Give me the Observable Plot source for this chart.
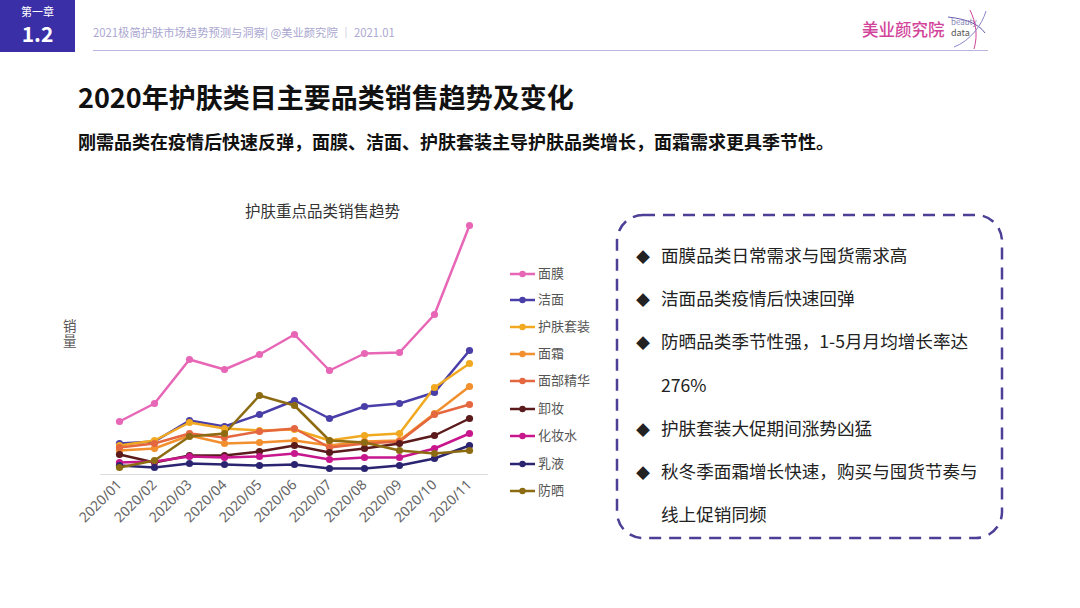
<!DOCTYPE html>
<html><head><meta charset="utf-8">
<script src="https://cdn.jsdelivr.net/npm/d3@7"></script>
<script src="https://cdn.jsdelivr.net/npm/@observablehq/plot@0.6"></script>
<style>
body{margin:0;width:1080px;height:608px;overflow:hidden;background:#fff;font-family:"Noto Sans CJK SC","Noto Sans",sans-serif;position:relative}
.abs{position:absolute;white-space:nowrap}
#chart{position:absolute;left:60px;top:190px}
.leg{position:absolute;left:510px;font-size:13px;color:#555;height:20px;line-height:20px}
.leg svg{vertical-align:middle;margin-right:3px}
.item{position:absolute;left:636px;font-size:17.6px;color:#222;line-height:24px}
.item .d{display:inline-block;width:25px;font-size:14px}
</style></head><body>
<div class="abs" style="left:0;top:0;width:75px;height:52px;background:#3a2fa6;color:#fff;text-align:center">
  <div style="font-size:11px;line-height:13px;margin-top:5px">第一章</div>
  <div style="font-size:21px;font-weight:bold;line-height:24px;margin-top:3px">1.2</div>
</div>
<div class="abs" style="left:93px;top:24px;font-size:11.3px;color:#a9a6cf">2021极简护肤市场趋势预测与洞察| @美业颜究院 ｜ 2021.01</div>
<div class="abs" style="left:93px;top:50px;width:895px;height:1px;background:#b8b5df"></div>
<div class="abs" style="left:862px;top:19px;font-size:16.5px;line-height:20px;color:#d2449a;font-weight:500">美业颜究院</div>
<div class="abs" style="left:951px;top:17px;font-size:8px;line-height:9px;color:#8a86b8">beauty</div>
<div class="abs" style="left:951px;top:28px;font-size:9px;line-height:10px;color:#555">data</div>
<svg class="abs" style="left:940px;top:5px" width="50" height="50">
  <path d="M8,12 C25,14 38,18 45,28" stroke="#6a5fb0" fill="none" stroke-width="1"/>
  <path d="M30,5 C36,18 38,30 34,44" stroke="#d2449a" fill="none" stroke-width="1"/>
  <path d="M46,6 C42,20 30,36 14,42" stroke="#8a86c8" fill="none" stroke-width="1"/>
</svg>

<div class="abs" style="left:78px;top:77px;font-size:27px;font-weight:bold;color:#111">2020年护肤类目主要品类销售趋势及变化</div>
<div class="abs" style="left:78px;top:128px;font-size:18px;font-weight:bold;color:#111">刚需品类在疫情后快速反弹，面膜、洁面、护肤套装主导护肤品类增长，面霜需求更具季节性。</div>

<div class="abs" style="left:245px;top:199px;font-size:15.5px;color:#333">护肤重点品类销售趋势</div>
<div class="abs" style="left:63px;top:318px;font-size:13.5px;color:#555;line-height:15px;width:14px;white-space:normal">销量</div>
<div id="chart"></div>
<div id="legend"></div>

<svg class="abs" style="left:0;top:0" width="1080" height="608" pointer-events="none">
  <rect x="617" y="215" width="385" height="323" rx="26" ry="26" fill="none" stroke="#4b3f96" stroke-width="2.5" stroke-dasharray="12 8"/>
</svg>
<div id="items"></div>

<script>
const months = ["2020/01","2020/02","2020/03","2020/04","2020/05","2020/06","2020/07","2020/08","2020/09","2020/10","2020/11"];
const series = ["面膜","洁面","护肤套装","面霜","面部精华","卸妆","化妆水","乳液","防晒"];
const colors = ["#e766b6","#4a3fa8","#f0a920","#f28f2e","#e4673f","#5b1b1c","#c8178d","#2b2571","#8c6b12"];
const mianmo    = [53, 71, 115, 105, 120, 140, 104, 121, 122, 160, 249];
const jiemian   = [31, 33, 54, 48, 60, 74, 56, 68, 71, 82, 124];
const taozhuang = [29, 34, 52, 46, 44, 45, 34, 39, 41, 87, 111];
const mianshuang= [24, 26, 39, 31, 32, 34, 29, 33, 34, 61, 88];
const jinghua   = [27, 31, 41, 37, 43, 46, 27, 31, 33, 60, 70];
const xiezhuang = [20, 12, 19, 19, 23, 29, 22, 26, 31, 39, 56];
const huazhuangshui = [12, 13, 18, 17, 18, 21, 15, 17, 17, 26, 41];
const ruye      = [9, 7, 11, 10, 9, 10, 6, 6, 9, 16, 29];
const fangshai  = [7, 14, 38, 41, 79, 69, 34, 32, 24, 21, 24];
const values = [mianmo, jiemian, taozhuang, mianshuang, jinghua, xiezhuang, huazhuangshui, ruye, fangshai];
const notes = ["面膜品类日常需求与囤货需求高","洁面品类疫情后快速回弹","防晒品类季节性强，1-5月月均增长率达","276%","护肤套装大促期间涨势凶猛","秋冬季面霜增长快速，购买与囤货节奏与","线上促销同频"];
const bullets = [true,true,true,false,true,true,false];

const data = [];
series.forEach((s,i)=>values[i].forEach((v,j)=>data.push({series:s, month:months[j], value:v})));

const chart = Plot.plot({
  width: 440, height: 350,
  marginLeft: 40, marginRight: 12, marginTop: 30, marginBottom: 66,
  style: {fontFamily: '"Noto Sans", "Noto Sans CJK SC", sans-serif', fontSize: "14px", color: "#666", background: "transparent"},
  x: {type: "point", domain: months, padding: 0.5, label: null, tickRotate: -45, tickSize: 0, tickPadding: 8},
  y: {domain: [0, 254], axis: null},
  color: {domain: series, range: colors},
  marks: [
    Plot.ruleY([0], {stroke: "#dcdcdc", strokeWidth: 1.2}),
    Plot.lineY(data, {x: "month", y: "value", z: "series", stroke: "series", strokeWidth: 2.5}),
    Plot.dot(data, {x: "month", y: "value", fill: "series", r: 3.6})
  ]
});
document.getElementById("chart").appendChild(chart);

const legY = [273, 299, 326, 353, 380, 408, 435, 463, 490];
const leg = document.getElementById("legend");
series.forEach((s,i)=>{
  const d = document.createElement("div");
  d.className = "leg";
  d.style.top = (legY[i]-10)+"px";
  d.innerHTML = `<svg width="25" height="10"><line x1="0" y1="5" x2="25" y2="5" stroke="${colors[i]}" stroke-width="2.5"/><circle cx="12.5" cy="5" r="3.2" fill="${colors[i]}"/></svg>${s}`;
  leg.appendChild(d);
});

const itemY = [255, 298, 341, 385, 428, 471, 514];
const it = document.getElementById("items");
notes.forEach((t,i)=>{
  const d = document.createElement("div");
  d.className = "item";
  d.style.top = (itemY[i]-12)+"px";
  d.innerHTML = `<span class="d">${bullets[i] ? "◆" : ""}</span>${t}`;
  it.appendChild(d);
});
</script>
</body></html>
